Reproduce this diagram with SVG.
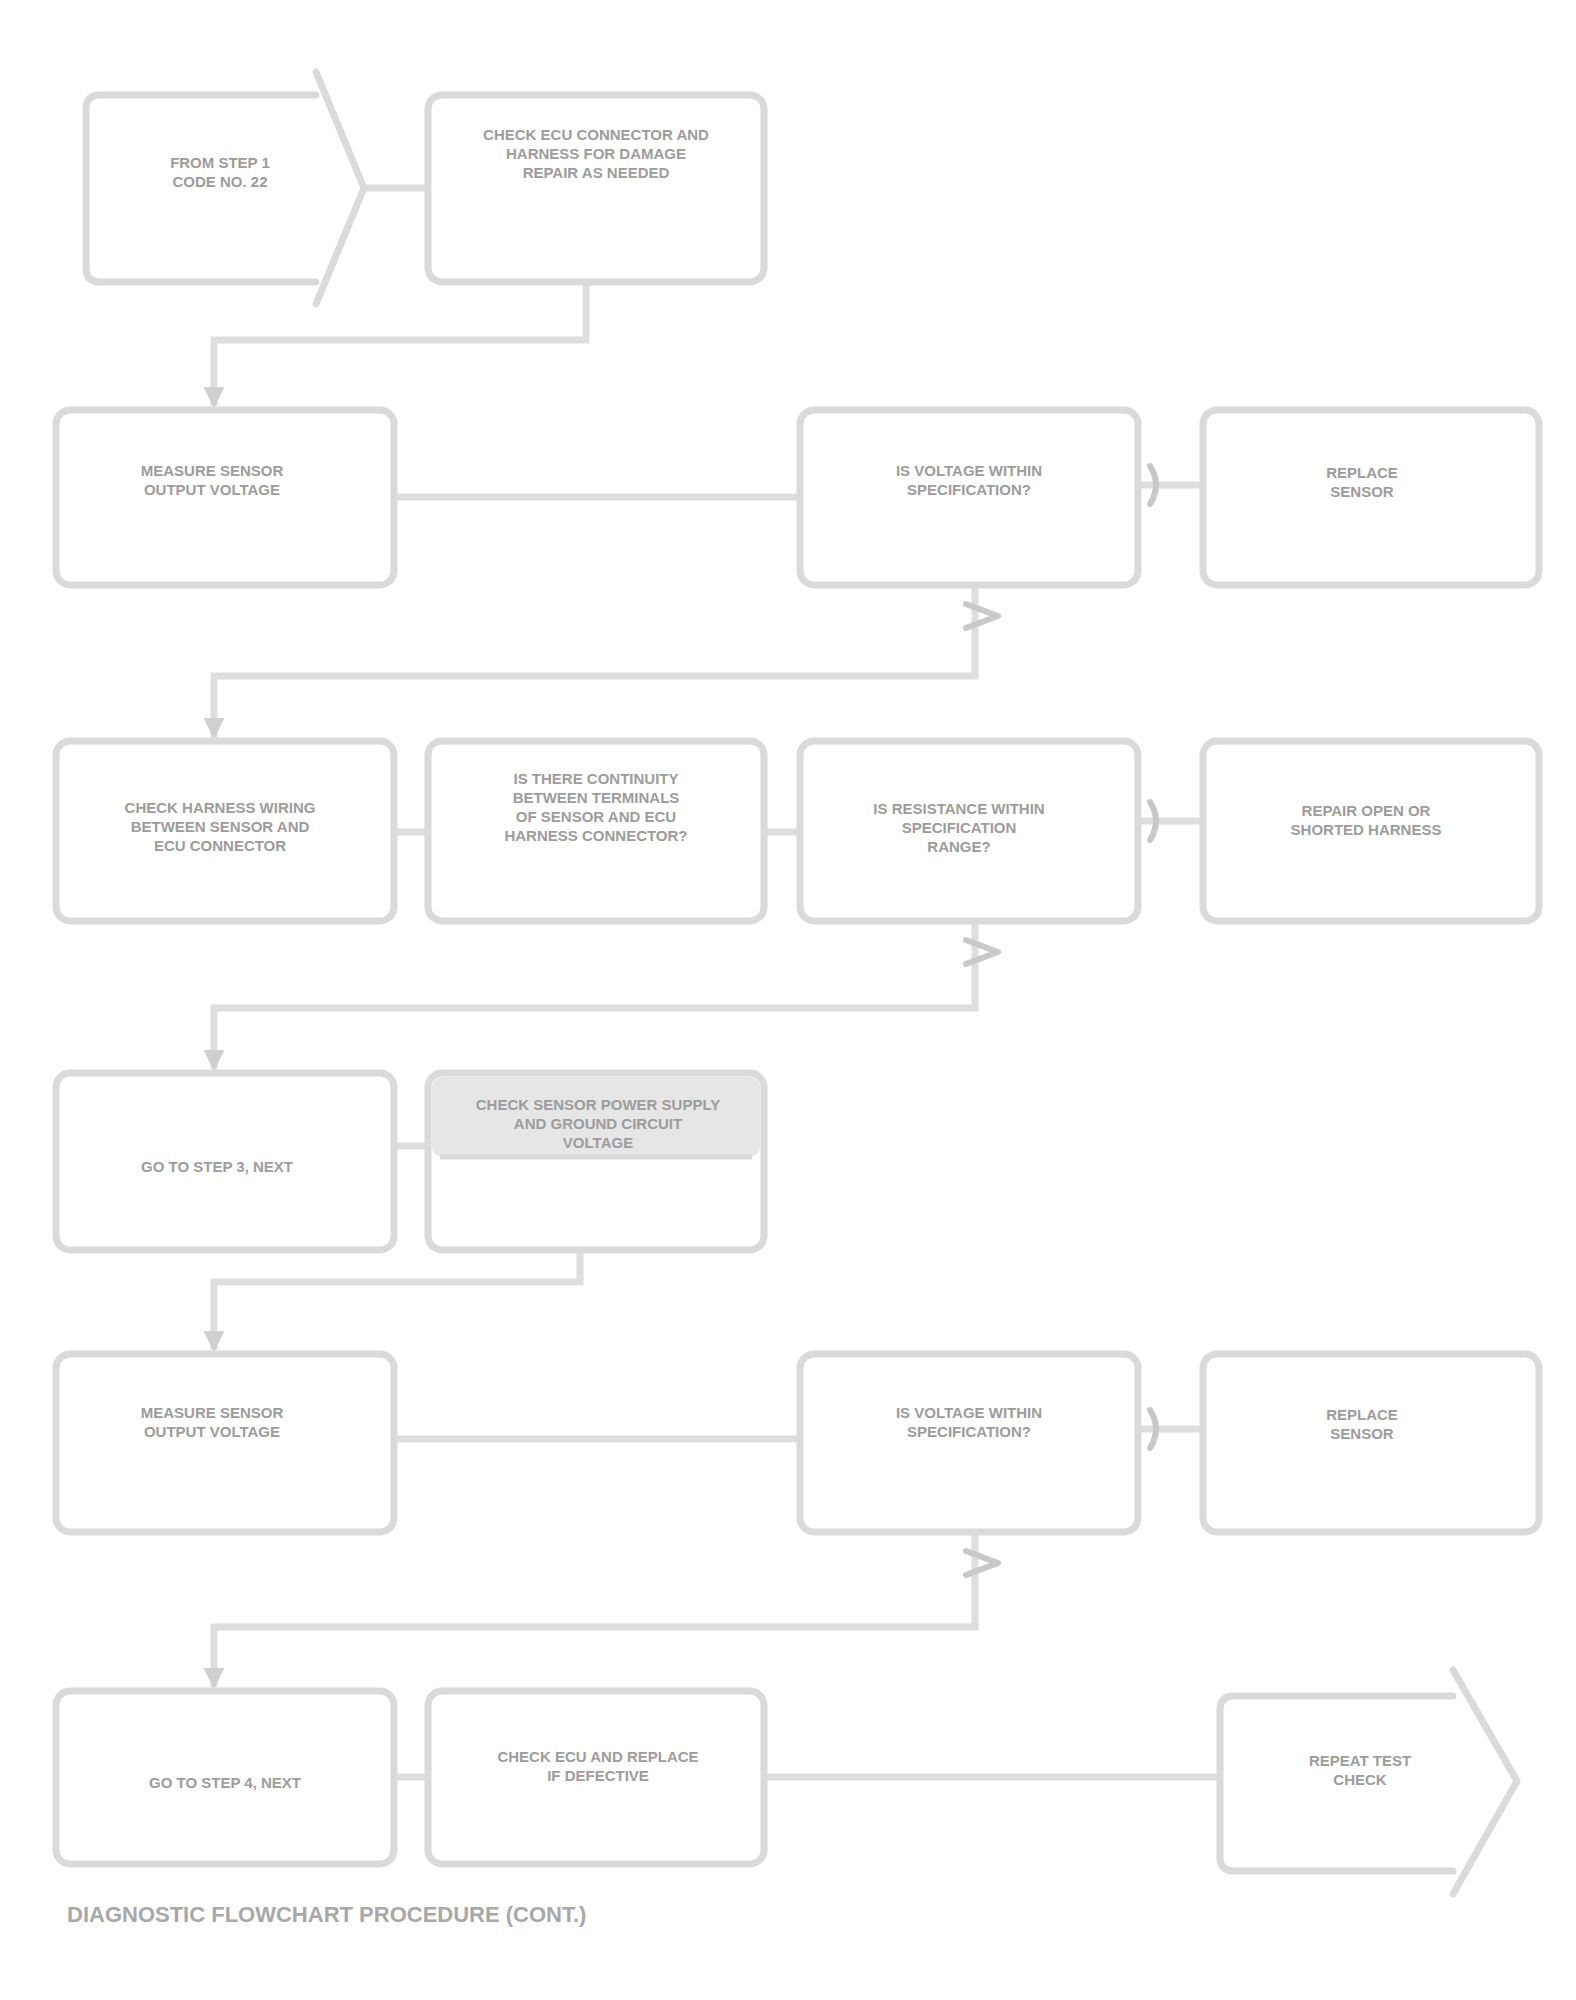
<svg xmlns="http://www.w3.org/2000/svg" width="1576" height="2000" viewBox="0 0 1576 2000">
<style>
.box{fill:#fff;stroke:#dadada;stroke-width:7}
.shape{fill:none;stroke:#dadada;stroke-width:7;stroke-linejoin:round;stroke-linecap:round}
.conn{fill:none;stroke:#dedede;stroke-width:7}
.mark{fill:none;stroke:#c8c8c8;stroke-width:6;stroke-linecap:round;stroke-linejoin:round}
.t{font-family:"Liberation Sans",Arial,sans-serif;font-size:15px;font-weight:bold;fill:#9c9c9c;text-anchor:middle}
.cap{font-family:"Liberation Sans",Arial,sans-serif;font-size:22px;font-weight:bold;fill:#a8a8a8}
</style>
<defs>
<marker id="ah" viewBox="0 0 10 10" refX="9" refY="5" markerWidth="3" markerHeight="3" orient="auto">
<path d="M0,0 L10,5 L0,10 z" fill="#d0d0d0"/>
</marker>
</defs>
<rect width="1576" height="2000" fill="#fff"/>

<g id="connectors">
<line class="conn" x1="364" y1="188" x2="428" y2="188"/>
<polyline class="conn" points="586,282 586,340 214,340 214,406" marker-end="url(#ah)"/>
<line class="conn" x1="394" y1="497" x2="800" y2="497"/>
<line class="conn" x1="1138" y1="485" x2="1203" y2="485"/>
<polyline class="conn" points="975,585 975,676 214,676 214,737" marker-end="url(#ah)"/>
<line class="conn" x1="394" y1="832" x2="428" y2="832"/>
<line class="conn" x1="764" y1="832" x2="800" y2="832"/>
<line class="conn" x1="1138" y1="821" x2="1203" y2="821"/>
<polyline class="conn" points="975,921 975,1008 214,1008 214,1069" marker-end="url(#ah)"/>
<line class="conn" x1="394" y1="1146" x2="428" y2="1146"/>
<polyline class="conn" points="580,1250 580,1282 214,1282 214,1350" marker-end="url(#ah)"/>
<line class="conn" x1="394" y1="1439" x2="800" y2="1439"/>
<line class="conn" x1="1138" y1="1429" x2="1203" y2="1429"/>
<polyline class="conn" points="975,1532 975,1627 214,1627 214,1687" marker-end="url(#ah)"/>
<line class="conn" x1="394" y1="1777" x2="428" y2="1777"/>
<line class="conn" x1="764" y1="1777" x2="1220" y2="1777"/>
<path class="mark" d="M966,604 L998,616 L966,628"/>
<path class="mark" d="M1150,466 Q1162,485 1150,504"/>
<path class="mark" d="M966,940 L998,952 L966,964"/>
<path class="mark" d="M1150,802 Q1162,821 1150,840"/>
<path class="mark" d="M966,1551 L998,1563 L966,1575"/>
<path class="mark" d="M1150,1410 Q1162,1429 1150,1448"/>
</g>

<g id="n1">
<path class="shape" d="M316,95 H100 Q86,95 86,109 V268 Q86,282 100,282 H316"/>
<path class="shape" d="M316,72 L364,188 L316,304"/>
<text class="t" x="220" y="168">FROM STEP 1</text>
<text class="t" x="220" y="187">CODE NO. 22</text>
</g>
<g id="n2">
<rect class="box" x="428" y="95" width="336" height="187" rx="14"/>
<text class="t" x="596" y="140">CHECK ECU CONNECTOR AND</text>
<text class="t" x="596" y="159">HARNESS FOR DAMAGE</text>
<text class="t" x="596" y="178">REPAIR AS NEEDED</text>
</g>

<g id="n3">
<rect class="box" x="56" y="410" width="338" height="175" rx="14"/>
<text class="t" x="212" y="476">MEASURE SENSOR</text>
<text class="t" x="212" y="495">OUTPUT VOLTAGE</text>
</g>
<g id="n4">
<rect class="box" x="800" y="410" width="338" height="175" rx="14"/>
<text class="t" x="969" y="476">IS VOLTAGE WITHIN</text>
<text class="t" x="969" y="495">SPECIFICATION?</text>
</g>
<g id="n5">
<rect class="box" x="1203" y="410" width="336" height="175" rx="14"/>
<text class="t" x="1362" y="478">REPLACE</text>
<text class="t" x="1362" y="497">SENSOR</text>
</g>

<g id="n6">
<rect class="box" x="56" y="741" width="338" height="180" rx="14"/>
<text class="t" x="220" y="813">CHECK HARNESS WIRING</text>
<text class="t" x="220" y="832">BETWEEN SENSOR AND</text>
<text class="t" x="220" y="851">ECU CONNECTOR</text>
</g>
<g id="n7">
<rect class="box" x="428" y="741" width="336" height="180" rx="14"/>
<text class="t" x="596" y="784">IS THERE CONTINUITY</text>
<text class="t" x="596" y="803">BETWEEN TERMINALS</text>
<text class="t" x="596" y="822">OF SENSOR AND ECU</text>
<text class="t" x="596" y="841">HARNESS CONNECTOR?</text>
</g>
<g id="n8">
<rect class="box" x="800" y="741" width="338" height="180" rx="14"/>
<text class="t" x="959" y="814">IS RESISTANCE WITHIN</text>
<text class="t" x="959" y="833">SPECIFICATION</text>
<text class="t" x="959" y="852">RANGE?</text>
</g>
<g id="n9">
<rect class="box" x="1203" y="741" width="336" height="180" rx="14"/>
<text class="t" x="1366" y="816">REPAIR OPEN OR</text>
<text class="t" x="1366" y="835">SHORTED HARNESS</text>
</g>

<g id="n10">
<rect class="box" x="56" y="1073" width="338" height="177" rx="14"/>
<text class="t" x="217" y="1172">GO TO STEP 3, NEXT</text>
</g>
<g id="n11">
<rect class="box" x="428" y="1073" width="336" height="177" rx="14"/>
<rect x="432" y="1077" width="328" height="80" rx="10" fill="#e6e6e6"/>
<line x1="440" y1="1157" x2="752" y2="1157" stroke="#dadada" stroke-width="5"/>
<text class="t" x="598" y="1110">CHECK SENSOR POWER SUPPLY</text>
<text class="t" x="598" y="1129">AND GROUND CIRCUIT</text>
<text class="t" x="598" y="1148">VOLTAGE</text>
</g>

<g id="n12">
<rect class="box" x="56" y="1354" width="338" height="178" rx="14"/>
<text class="t" x="212" y="1418">MEASURE SENSOR</text>
<text class="t" x="212" y="1437">OUTPUT VOLTAGE</text>
</g>
<g id="n13">
<rect class="box" x="800" y="1354" width="338" height="178" rx="14"/>
<text class="t" x="969" y="1418">IS VOLTAGE WITHIN</text>
<text class="t" x="969" y="1437">SPECIFICATION?</text>
</g>
<g id="n14">
<rect class="box" x="1203" y="1354" width="336" height="178" rx="14"/>
<text class="t" x="1362" y="1420">REPLACE</text>
<text class="t" x="1362" y="1439">SENSOR</text>
</g>

<g id="n15">
<rect class="box" x="56" y="1691" width="338" height="173" rx="14"/>
<text class="t" x="225" y="1788">GO TO STEP 4, NEXT</text>
</g>
<g id="n16">
<rect class="box" x="428" y="1691" width="336" height="173" rx="14"/>
<text class="t" x="598" y="1762">CHECK ECU AND REPLACE</text>
<text class="t" x="598" y="1781">IF DEFECTIVE</text>
</g>
<g id="n17">
<path class="shape" d="M1453,1696 H1234 Q1220,1696 1220,1710 V1857 Q1220,1871 1234,1871 H1453"/>
<path class="shape" d="M1453,1670 L1517,1781 L1453,1894"/>
<text class="t" x="1360" y="1766">REPEAT TEST</text>
<text class="t" x="1360" y="1785">CHECK</text>
</g>

<text class="cap" x="67" y="1922">DIAGNOSTIC FLOWCHART PROCEDURE (CONT.)</text>
</svg>
